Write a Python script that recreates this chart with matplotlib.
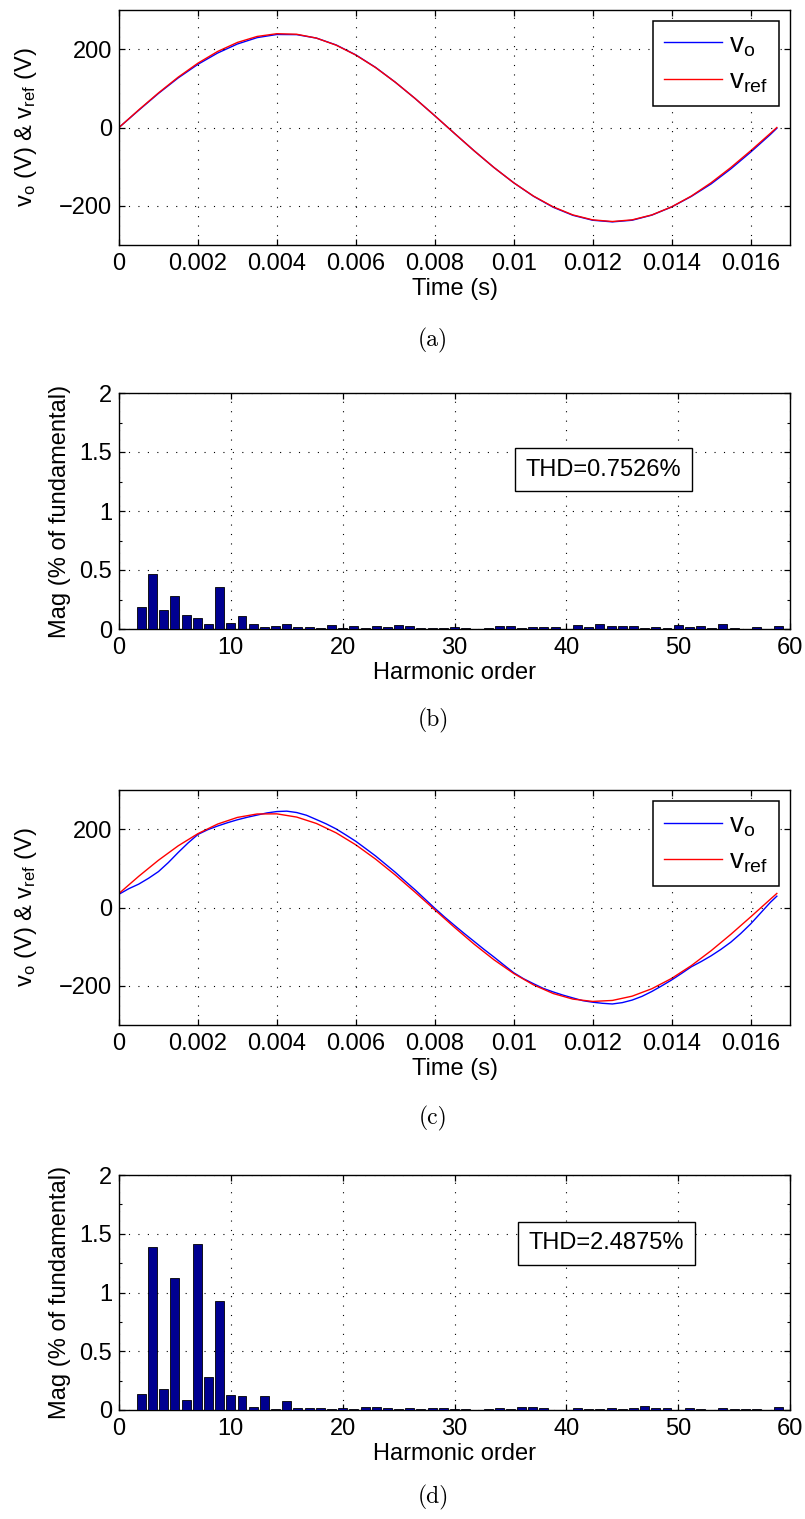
import numpy as np
import matplotlib
matplotlib.use("Agg")
import matplotlib.pyplot as plt

plt.rcParams['font.family'] = ['Liberation Sans', 'DejaVu Sans']
plt.rcParams['mathtext.fontset'] = 'custom'
plt.rcParams['mathtext.rm'] = 'Liberation Sans'
plt.rcParams['mathtext.it'] = 'Liberation Sans:italic'
plt.rcParams['font.size'] = 17

# ---- data ----
# time samples (s) over one 60 Hz period
t = [0.0005 * k for k in range(34)] + [1 / 60]
t_fine = [0.00025 * k for k in range(67)] + [1 / 60]

# (a) reference and output voltage
vref_a = [0, 45.0, 88.3, 128.6, 164.3, 194.2, 217.2, 232.5, 239.5, 238.1,
          228.3, 210.3, 184.9, 153.0, 115.6, 74.2, 30.1, -15.1, -59.7, -102.2,
          -141.1, -175.0, -202.6, -223.2, -235.8, -240.0, -235.8, -223.2, -202.6, -175.0,
          -141.1, -102.2, -59.7, -15.1, 0]
vo_a = [0, 44.0, 87.0, 126.6, 161.3, 190.2, 213.2, 229.5, 237.5, 237.1,
        228.3, 210.8, 185.4, 153.5, 115.6, 74.2, 30.1, -15.1, -59.7, -102.2,
        -141.1, -175.5, -203.6, -224.2, -236.8, -241.0, -236.8, -223.7, -203.0, -176.0,
        -144.1, -105.7, -63.2, -18.1, -2.0]

# (c) reference and output voltage
vref_c = [35.9, 79.7, 120.7, 157.5, 188.6, 213.1, 230.0, 238.8, 239.1, 230.9,
          214.6, 190.7, 160.0, 123.6, 82.9, 39.2, -5.9, -50.7, -93.8, -133.5,
          -168.5, -197.5, -219.6, -233.9, -239.8, -237.3, -226.4, -207.4, -181.1, -148.4,
          -110.4, -68.6, -24.3, 20.9, 35.9]
vo_c = [33.9, 48.1, 59.7, 74.7, 91.7, 114.7, 140.5, 164.8, 186.6, 198.7,
        208.1, 216.5, 224.0, 230.4, 236.0, 241.5, 245.0, 246.0, 242.5, 235.5,
        224.6, 213.5, 200.7, 185.1, 169.0, 150.4, 131.6, 110.7, 89.9, 67.3,
        45.2, 21.7, -1.9, -24.4, -45.7, -66.6, -86.8, -107.1, -126.5, -146.7,
        -166.5, -181.9, -194.5, -206.5, -215.6, -223.7, -230.9, -237.9, -241.8, -244.6,
        -246.3, -242.9, -236.4, -226.9, -214.4, -200.1, -185.1, -168.5, -151.4, -138.0,
        -123.4, -106.9, -88.6, -66.6, -42.3, -14.7, 12.9, 28.9]

# harmonic spectra (% of fundamental), orders 2..59
orders = list(range(2, 60))
mag_b = [0.185, 0.47, 0.165, 0.28, 0.12, 0.094, 0.045, 0.36, 0.048, 0.113,
         0.04, 0.02, 0.028, 0.045, 0.014, 0.02, 0.011, 0.037, 0.011, 0.028,
         0.005, 0.028, 0.014, 0.037, 0.028, 0.006, 0.006, 0.011, 0.02, 0.005,
         0.002, 0.011, 0.026, 0.026, 0.011, 0.02, 0.014, 0.02, 0.003, 0.031,
         0.014, 0.04, 0.028, 0.028, 0.026, 0.011, 0.014, 0.011, 0.031, 0.017,
         0.026, 0.011, 0.04, 0.011, 0.004, 0.02, 0.003, 0.026]
mag_d = [0.136, 1.383, 0.179, 1.125, 0.088, 1.41, 0.284, 0.926, 0.125, 0.119,
         0.028, 0.116, 0.005, 0.074, 0.017, 0.02, 0.017, 0.008, 0.014, 0.005,
         0.028, 0.026, 0.014, 0.011, 0.014, 0.008, 0.014, 0.014, 0.011, 0.008,
         0.003, 0.006, 0.017, 0.006, 0.023, 0.023, 0.014, 0.003, 0.0, 0.017,
         0.011, 0.006, 0.02, 0.006, 0.017, 0.034, 0.014, 0.017, 0.003, 0.02,
         0.006, 0.003, 0.014, 0.006, 0.006, 0.006, 0.003, 0.023]
thd_b = 'THD=0.7526%'
thd_d = 'THD=2.4875%'

time_ticks = [0, 0.002, 0.004, 0.006, 0.008, 0.01, 0.012, 0.014, 0.016]
time_labels = ['0', '0.002', '0.004', '0.006', '0.008', '0.01', '0.012', '0.014', '0.016']
volt_ticks = [-200, 0, 200]
volt_labels = ['\u2212200', '0', '200']
mag_ticks = [0, 0.5, 1, 1.5, 2]
mag_minor = [0.25, 0.75, 1.25, 1.75]
mag_labels = ['0', '0.5', '1', '1.5', '2']
harm_ticks = [0, 10, 20, 30, 40, 50, 60]

fig = plt.figure(figsize=(8.05, 15.19), dpi=100)
W, H = 805, 1519
L, R = 119, 790


def make_ax(top, bottom):
    ax = fig.add_axes([L / W, 1 - bottom / H, (R - L) / W, (bottom - top) / H])
    ax.tick_params(direction='in', top=True, right=True, length=4, width=0.9,
                   labelsize=17)
    ax.tick_params(axis='x', pad=6)
    ax.tick_params(axis='y', pad=5)
    for s in ax.spines.values():
        s.set_linewidth(1.0)
    ax.grid(True, color='black', linestyle=(0, (1, 7.5)), linewidth=0.8)
    ax.set_axisbelow(False)
    return ax


def wave(ax, vo, vref, t_vo):
    ax.plot(t_vo, vo, color='#0000ff', lw=1.0, label=r'v$_\mathrm{o}$')
    ax.plot(t, vref, color='#ff0000', lw=1.0, label=r'v$_\mathrm{ref}$')
    ax.set_xlim(0, 0.017)
    ax.set_ylim(-300, 300)
    ax.set_xticks(time_ticks)
    ax.set_xticklabels(time_labels)
    ax.set_yticks(volt_ticks)
    ax.set_yticklabels(volt_labels)
    ax.set_xlabel('Time (s)', labelpad=2)
    ax.set_ylabel(r'v$_\mathrm{o}$ (V) & v$_\mathrm{ref}$ (V)', labelpad=14)
    leg = ax.legend(loc='upper right', fancybox=False, framealpha=1,
                    edgecolor='black', fontsize=20, handlelength=2.1,
                    handletextpad=0.25, borderaxespad=0.4, labelspacing=0.35,
                    borderpad=0.4)
    leg.get_frame().set_linewidth(1.1)


def spectrum(ax, mag, thd, pos):
    ax.bar(orders, mag, width=0.8, color='#000090', edgecolor='black',
           linewidth=0.6, zorder=3)
    ax.set_xlim(0, 60)
    ax.set_ylim(0, 2)
    ax.set_xticks(harm_ticks)
    ax.set_yticks(mag_ticks)
    ax.set_yticks(mag_minor, minor=True)
    ax.tick_params(axis='y', which='minor', direction='in', right=True,
                   length=2.5, width=0.8)
    ax.set_yticklabels(mag_labels)
    ax.set_xlabel('Harmonic order', labelpad=2)
    ax.set_ylabel('Mag (% of fundamental)', labelpad=6)
    ax.text(pos[0], pos[1], thd, ha='center', va='center', fontsize=17,
            bbox=dict(boxstyle='square,pad=0.45', facecolor='white',
                      edgecolor='black', linewidth=1.0))


ax_a = make_ax(10, 245)
wave(ax_a, vo_a, vref_a, t)
ax_b = make_ax(393, 629)
spectrum(ax_b, mag_b, thd_b, (43.3, 1.35))
ax_c = make_ax(790, 1025)
wave(ax_c, vo_c, vref_c, t_fine)
ax_d = make_ax(1175, 1410)
spectrum(ax_d, mag_d, thd_d, (43.6, 1.42))

for lab, y in [('(a)', 340), ('(b)', 720), ('(c)', 1118), ('(d)', 1497)]:
    fig.text(433 / W, 1 - y / H, lab, ha='center', va='center',
             family='cmr10', fontsize=17)

fig.savefig('out.png', dpi=100)
